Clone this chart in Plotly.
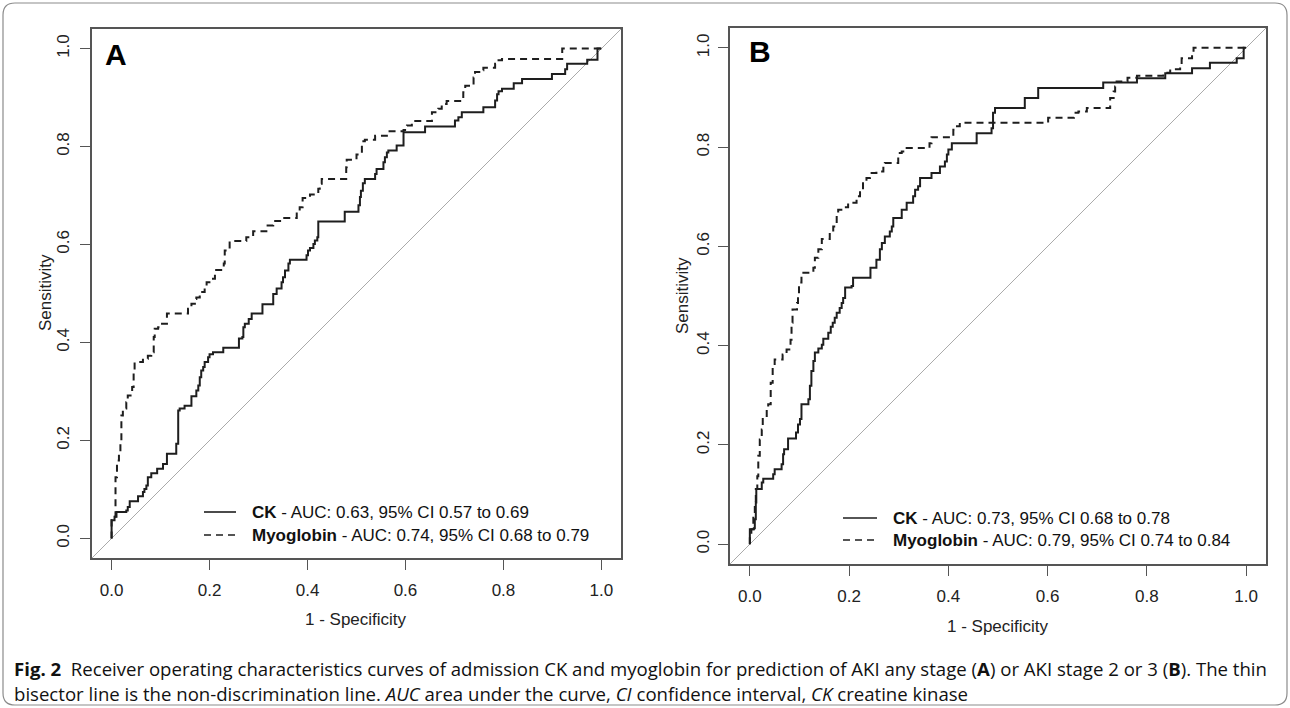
import plotly.graph_objects as go

W, H = 1290, 708

# ---------------- data ----------------
tick_vals = [0.0, 0.2, 0.4, 0.6, 0.8, 1.0]
tick_text = ["0.0", "0.2", "0.4", "0.6", "0.8", "1.0"]

# Panel A - AKI any stage
ck_a_fpr = [0, 0, 0.006, 0.010, 0.030, 0.033, 0.037, 0.054, 0.064, 0.067, 0.071, 0.074, 0.081, 0.093,
            0.105, 0.113, 0.132, 0.136, 0.139, 0.149, 0.163, 0.173, 0.177, 0.180, 0.183, 0.187, 0.190,
            0.197, 0.200, 0.207, 0.228, 0.260, 0.267, 0.269, 0.272, 0.280, 0.286, 0.308, 0.330, 0.337,
            0.347, 0.350, 0.354, 0.361, 0.364, 0.398, 0.401, 0.405, 0.412, 0.415, 0.420, 0.422, 0.476,
            0.504, 0.507, 0.509, 0.513, 0.517, 0.538, 0.541, 0.555, 0.558, 0.562, 0.565, 0.582, 0.596,
            0.640, 0.701, 0.708, 0.715, 0.759, 0.783, 0.787, 0.790, 0.797, 0.821, 0.838, 0.899, 0.926,
            0.930, 0.971, 0.992, 1.0]
ck_a_tpr = [0, 0.037, 0.044, 0.054, 0.057, 0.064, 0.076, 0.086, 0.095, 0.101, 0.108, 0.125, 0.133, 0.142,
            0.152, 0.173, 0.193, 0.261, 0.265, 0.271, 0.290, 0.302, 0.312, 0.329, 0.343, 0.350, 0.360,
            0.370, 0.376, 0.380, 0.389, 0.408, 0.411, 0.431, 0.438, 0.448, 0.459, 0.478, 0.499, 0.510,
            0.523, 0.533, 0.547, 0.561, 0.569, 0.578, 0.588, 0.593, 0.601, 0.608, 0.615, 0.647, 0.667,
            0.680, 0.697, 0.710, 0.725, 0.734, 0.744, 0.754, 0.768, 0.778, 0.788, 0.792, 0.802, 0.829,
            0.841, 0.853, 0.860, 0.870, 0.880, 0.894, 0.907, 0.913, 0.918, 0.929, 0.938, 0.948, 0.958,
            0.969, 0.977, 1.0, 1.0]

myo_a_fpr = [0, 0, 0.003, 0.008, 0.011, 0.015, 0.018, 0.020, 0.023, 0.030, 0.033, 0.042, 0.045, 0.047,
             0.064, 0.074, 0.081, 0.086, 0.088, 0.095, 0.098, 0.113, 0.156, 0.163, 0.170, 0.173, 0.180,
             0.190, 0.194, 0.204, 0.211, 0.229, 0.231, 0.238, 0.241, 0.275, 0.289, 0.316, 0.330, 0.344,
             0.378, 0.384, 0.390, 0.405, 0.422, 0.425, 0.429, 0.479, 0.480, 0.500, 0.511, 0.517, 0.538,
             0.562, 0.596, 0.603, 0.613, 0.654, 0.667, 0.674, 0.684, 0.718, 0.722, 0.739, 0.742, 0.756,
             0.759, 0.783, 0.790, 0.797, 0.920, 1.0]
myo_a_tpr = [0, 0.037, 0.044, 0.125, 0.159, 0.173, 0.200, 0.251, 0.265, 0.278, 0.292, 0.309, 0.343, 0.360,
             0.367, 0.373, 0.380, 0.411, 0.428, 0.431, 0.438, 0.459, 0.469, 0.479, 0.489, 0.492, 0.503,
             0.516, 0.523, 0.530, 0.548, 0.561, 0.588, 0.589, 0.607, 0.615, 0.627, 0.639, 0.648, 0.654,
             0.669, 0.676, 0.695, 0.702, 0.714, 0.724, 0.734, 0.758, 0.773, 0.784, 0.811, 0.814, 0.822,
             0.831, 0.834, 0.843, 0.852, 0.870, 0.877, 0.887, 0.893, 0.911, 0.924, 0.941, 0.952, 0.956,
             0.961, 0.969, 0.976, 0.979, 1.0, 1.0]

# Panel B - AKI stage 2 or 3
ck_b_fpr = [0, 0, 0.008, 0.010, 0.012, 0.013, 0.024, 0.027, 0.047, 0.050, 0.064, 0.067, 0.069, 0.077,
            0.093, 0.097, 0.101, 0.104, 0.118, 0.121, 0.124, 0.128, 0.131, 0.138, 0.145, 0.148, 0.158,
            0.163, 0.167, 0.171, 0.175, 0.181, 0.185, 0.188, 0.192, 0.205, 0.208, 0.243, 0.255, 0.262,
            0.266, 0.272, 0.282, 0.286, 0.289, 0.306, 0.316, 0.329, 0.333, 0.339, 0.343, 0.366, 0.383,
            0.393, 0.397, 0.400, 0.407, 0.457, 0.487, 0.490, 0.494, 0.554, 0.581, 0.712, 0.780, 0.837,
            0.891, 0.927, 0.981, 0.995, 1.0]
ck_b_tpr = [0, 0.030, 0.032, 0.050, 0.084, 0.111, 0.124, 0.132, 0.141, 0.151, 0.161, 0.181, 0.191, 0.213,
            0.225, 0.241, 0.252, 0.282, 0.292, 0.319, 0.349, 0.369, 0.386, 0.394, 0.402, 0.414, 0.426,
            0.438, 0.446, 0.456, 0.466, 0.476, 0.486, 0.496, 0.517, 0.520, 0.537, 0.557, 0.573, 0.594,
            0.607, 0.620, 0.630, 0.640, 0.657, 0.674, 0.688, 0.701, 0.714, 0.721, 0.738, 0.748, 0.761,
            0.771, 0.785, 0.795, 0.808, 0.828, 0.838, 0.869, 0.879, 0.899, 0.919, 0.930, 0.939, 0.949,
            0.959, 0.970, 0.979, 1.0, 1.0]

myo_b_fpr = [0, 0, 0.003, 0.007, 0.010, 0.012, 0.015, 0.017, 0.020, 0.024, 0.026, 0.034, 0.037, 0.042,
             0.046, 0.050, 0.066, 0.074, 0.082, 0.084, 0.086, 0.095, 0.097, 0.099, 0.104, 0.128, 0.131,
             0.138, 0.145, 0.161, 0.168, 0.175, 0.178, 0.188, 0.198, 0.215, 0.222, 0.228, 0.235, 0.242,
             0.255, 0.269, 0.272, 0.299, 0.306, 0.316, 0.362, 0.366, 0.410, 0.413, 0.423, 0.601, 0.653,
             0.662, 0.679, 0.726, 0.733, 0.736, 0.739, 0.761, 0.780, 0.833, 0.847, 0.867, 0.870, 0.891,
             0.894, 1.0]
myo_b_tpr = [0, 0.017, 0.030, 0.057, 0.084, 0.111, 0.137, 0.178, 0.211, 0.231, 0.255, 0.272, 0.282, 0.325,
             0.356, 0.372, 0.382, 0.392, 0.412, 0.446, 0.473, 0.486, 0.500, 0.527, 0.547, 0.557, 0.577,
             0.594, 0.615, 0.627, 0.640, 0.667, 0.674, 0.679, 0.688, 0.701, 0.714, 0.731, 0.738, 0.748,
             0.751, 0.761, 0.768, 0.788, 0.791, 0.798, 0.808, 0.820, 0.835, 0.842, 0.849, 0.859, 0.869,
             0.872, 0.879, 0.899, 0.912, 0.922, 0.932, 0.940, 0.944, 0.950, 0.957, 0.966, 0.979, 0.989,
             1.0, 1.0]

legend_a = ["<b>CK</b> - AUC: 0.63, 95% CI 0.57 to 0.69",
            "<b>Myoglobin</b> - AUC: 0.74, 95% CI 0.68 to 0.79"]
legend_b = ["<b>CK</b> - AUC: 0.73, 95% CI 0.68 to 0.78",
            "<b>Myoglobin</b> - AUC: 0.79, 95% CI 0.74 to 0.84"]

caption_1 = ("<b>Fig. 2</b>  Receiver operating characteristics curves of admission CK and myoglobin for "
             "prediction of AKI any stage (<b>A</b>) or AKI stage 2 or 3 (<b>B</b>). The thin")
caption_2 = ("bisector line is the non-discrimination line. <i>AUC</i> area under the curve, "
             "<i>CI</i> confidence interval, <i>CK</i> creatine kinase")

# ---------------- layout helpers ----------------
def px(x):
    return x / W

def py(y):
    return 1 - y / H

AX_RANGE = [-0.04, 1.04]
FONT = "Liberation Sans, Arial, sans-serif"
CAP_FONT = "Open Sans, Noto Sans, sans-serif"
CURVE = "#1e1e1e"
BOX = "#555555"
TXT = "#222222"
DASH = "7px,5px"

# panel boxes in pixels: (left, right, top, bottom)
box_a = (92, 621, 29, 558)
box_b = (730, 1266, 28, 564)

fig = go.Figure()

fig.add_trace(go.Scatter(x=ck_a_fpr, y=ck_a_tpr, mode="lines", line=dict(color=CURVE, width=2, shape="hv"),
                         xaxis="x", yaxis="y", showlegend=False, name="CK"))
fig.add_trace(go.Scatter(x=myo_a_fpr, y=myo_a_tpr, mode="lines",
                         line=dict(color=CURVE, width=2, shape="hv", dash=DASH),
                         xaxis="x", yaxis="y", showlegend=False, name="Myoglobin"))
fig.add_trace(go.Scatter(x=ck_b_fpr, y=ck_b_tpr, mode="lines", line=dict(color=CURVE, width=2, shape="hv"),
                         xaxis="x2", yaxis="y2", showlegend=False, name="CK"))
fig.add_trace(go.Scatter(x=myo_b_fpr, y=myo_b_tpr, mode="lines",
                         line=dict(color=CURVE, width=2, shape="hv", dash=DASH),
                         xaxis="x2", yaxis="y2", showlegend=False, name="Myoglobin"))

def axis_common():
    return dict(range=AX_RANGE, tickvals=tick_vals, ticktext=tick_text, showgrid=False, zeroline=False,
                showline=True, linecolor=BOX, linewidth=1.5, mirror=True, ticks="outside", ticklen=10,
                tickwidth=1.2, tickcolor=BOX, tickfont=dict(family=FONT, size=17, color=TXT),
                automargin=False, fixedrange=True)

xa = axis_common(); xa.update(domain=[px(box_a[0]), px(box_a[1])], anchor="y", ticklabelstandoff=6)
ya = axis_common(); ya.update(domain=[py(box_a[3]), py(box_a[2])], anchor="x", tickangle=-90,
                              ticklabelstandoff=4)
xb = axis_common(); xb.update(domain=[px(box_b[0]), px(box_b[1])], anchor="y2", ticklabelstandoff=6)
yb = axis_common(); yb.update(domain=[py(box_b[3]), py(box_b[2])], anchor="x2", tickangle=-90,
                              ticklabelstandoff=2)

shapes = []
# non-discrimination diagonals across each panel
for xr, yr in (("x", "y"), ("x2", "y2")):
    shapes.append(dict(type="line", xref=xr, yref=yr, x0=AX_RANGE[0], y0=AX_RANGE[0], x1=AX_RANGE[1],
                       y1=AX_RANGE[1], line=dict(color="#aaaaaa", width=1), layer="below"))

annotations = []

def legend(rows, sample_x0, sample_x1, text_x, ys):
    for i, (txt, yy) in enumerate(zip(rows, ys)):
        shapes.append(dict(type="line", xref="paper", yref="paper", x0=px(sample_x0), x1=px(sample_x1),
                           y0=py(yy), y1=py(yy),
                           line=dict(color=CURVE, width=1.6, dash=None if i == 0 else DASH)))
        annotations.append(dict(text=txt, xref="paper", yref="paper", x=px(text_x), y=py(yy),
                                xanchor="left", yanchor="middle", showarrow=False,
                                font=dict(family=FONT, size=17, color="#111111")))

legend(legend_a, 204, 236, 250, (512, 535))
legend(legend_b, 843, 877, 891, (518, 540))

# panel letters
annotations.append(dict(text="<b>A</b>", xref="paper", yref="paper", x=px(116), y=py(54), showarrow=False,
                        xanchor="center", yanchor="middle", font=dict(family=FONT, size=30, color="#000")))
annotations.append(dict(text="<b>B</b>", xref="paper", yref="paper", x=px(760), y=py(52), showarrow=False,
                        xanchor="center", yanchor="middle", font=dict(family=FONT, size=30, color="#000")))

# axis titles
for xx, yy in ((356, 619), (998, 626)):
    annotations.append(dict(text="1 - Specificity", xref="paper", yref="paper", x=px(xx), y=py(yy),
                            showarrow=False, xanchor="center", yanchor="middle",
                            font=dict(family=FONT, size=17, color=TXT)))
for xx, yy in ((46, 293), (683, 296)):
    annotations.append(dict(text="Sensitivity", xref="paper", yref="paper", x=px(xx), y=py(yy),
                            showarrow=False, xanchor="center", yanchor="middle", textangle=-90,
                            font=dict(family=FONT, size=17, color=TXT)))

# caption
annotations.append(dict(text=caption_1, xref="paper", yref="paper", x=px(12), y=py(668), showarrow=False,
                        xanchor="left", yanchor="middle", font=dict(family=CAP_FONT, size=18.6, color="#111")))
annotations.append(dict(text=caption_2, xref="paper", yref="paper", x=px(12), y=py(693), showarrow=False,
                        xanchor="left", yanchor="middle", font=dict(family=CAP_FONT, size=18.6, color="#111")))

# rounded outer frame
l, r, t, b, rad = 3, 1287, 3, 705, 12
path = (f"M {px(l+rad)},{py(t)} L {px(r-rad)},{py(t)} Q {px(r)},{py(t)} {px(r)},{py(t+rad)} "
        f"L {px(r)},{py(b-rad)} Q {px(r)},{py(b)} {px(r-rad)},{py(b)} "
        f"L {px(l+rad)},{py(b)} Q {px(l)},{py(b)} {px(l)},{py(b-rad)} "
        f"L {px(l)},{py(t+rad)} Q {px(l)},{py(t)} {px(l+rad)},{py(t)} Z")
shapes.append(dict(type="path", xref="paper", yref="paper", path=path, line=dict(color="#8c8c8c", width=1.2)))

fig.update_layout(width=W, height=H, margin=dict(l=0, r=0, t=0, b=0), paper_bgcolor="white",
                  plot_bgcolor="white", xaxis=xa, yaxis=ya, xaxis2=xb, yaxis2=yb,
                  shapes=shapes, annotations=annotations, showlegend=False)

fig.write_html("out.html", config={"displayModeBar": False},
               post_script="document.body.style.margin='0';document.body.style.overflow='hidden';")
